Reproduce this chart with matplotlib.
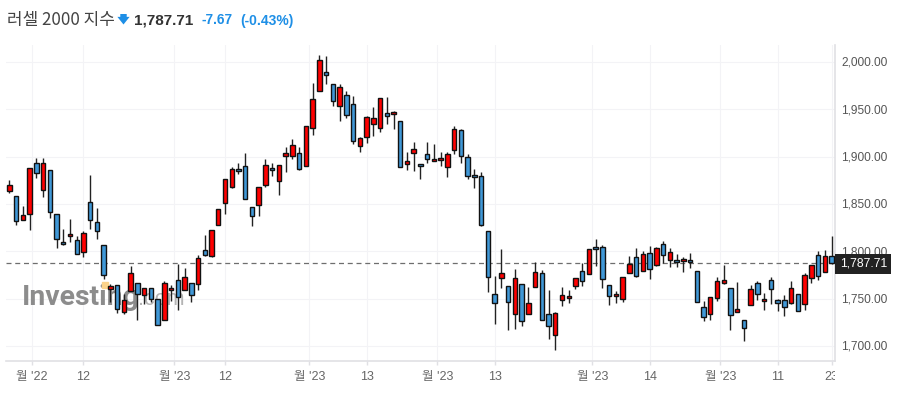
import matplotlib
matplotlib.use('Agg')
import matplotlib.pyplot as plt
from matplotlib.transforms import Bbox, ScaledTranslation
import numpy as np

plt.rcParams['font.family'] = ['Liberation Sans', 'Noto Sans CJK KR', 'DejaVu Sans']

highs = [1875.0, 1858.1, 1847.5, 1887.6, 1898.9, 1898.9, 1886.2, 1839.8, 1823.2, 1834.5,
         1816.2, 1821.5, 1880.9, 1846.1, 1807.0, 1765.1, 1764.8, 1755.3, 1784.9, 1766.9,
         1761.6, 1761.6, 1750.0, 1768.3, 1764.8, 1787.0, 1782.7, 1766.9, 1796.5, 1817.6,
         1822.9, 1845.0, 1876.7, 1889.4, 1893.6, 1904.2, 1847.2, 1868.3, 1897.1, 1893.6,
         1891.5, 1910.6, 1919.0, 1910.6, 1932.7, 1978.1, 2007.7, 2006.7, 1977.1, 1977.1,
         1969.7, 1964.4, 1921.1, 1943.3, 1952.8, 1962.3, 1963.4, 1948.6, 1938.0, 1905.3,
         1915.8, 1892.6, 1915.8, 1913.7, 1905.3, 1905.3, 1932.7, 1929.6, 1903.2, 1887.3,
         1884.2, 1821.8, 1774.3, 1802.8, 1763.8, 1781.7, 1765.9, 1762.7, 1789.1, 1780.6,
         1759.5, 1736.3, 1762.7, 1759.5, 1772.2, 1788.0, 1802.8, 1813.4, 1807.0, 1764.8,
         1758.5, 1773.3, 1795.4, 1803.9, 1800.7, 1806.0, 1804.9, 1811.3, 1803.9, 1797.5,
         1794.4, 1798.6, 1779.6, 1747.9, 1752.1, 1773.2, 1785.9, 1761.6, 1768.0, 1727.8,
         1764.8, 1769.0, 1756.3, 1773.2, 1750.0, 1754.2, 1769.0, 1755.3, 1777.5, 1785.9,
         1800.7, 1801.7, 1816.5]
lows = [1861.2, 1827.4, 1833.1, 1822.5, 1877.4, 1857.4, 1835.2, 1803.5, 1806.3, 1809.8,
        1796.8, 1794.0, 1823.2, 1813.0, 1771.1, 1746.5, 1734.9, 1733.8, 1758.5, 1727.5,
        1744.0, 1746.5, 1722.5, 1727.8, 1747.5, 1738.0, 1759.5, 1746.5, 1759.5, 1795.4,
        1794.4, 1828.2, 1839.8, 1867.2, 1882.0, 1855.6, 1826.7, 1837.7, 1868.3, 1879.9,
        1859.8, 1884.2, 1897.9, 1885.9, 1890.5, 1923.2, 1969.7, 1977.1, 1953.9, 1938.0,
        1940.8, 1913.7, 1905.3, 1914.8, 1922.2, 1926.4, 1934.5, 1929.6, 1889.4, 1886.3,
        1885.2, 1876.8, 1893.7, 1895.8, 1890.5, 1878.9, 1903.2, 1893.7, 1876.8, 1867.3,
        1827.1, 1757.4, 1723.6, 1761.6, 1717.3, 1718.3, 1721.5, 1734.2, 1762.7, 1727.8,
        1707.8, 1696.2, 1742.6, 1745.8, 1760.6, 1763.8, 1776.4, 1784.9, 1761.6, 1743.7,
        1745.8, 1746.9, 1777.5, 1773.3, 1779.6, 1771.1, 1784.9, 1788.0, 1783.8, 1783.8,
        1778.5, 1782.7, 1746.8, 1726.8, 1727.8, 1747.9, 1765.8, 1717.3, 1736.3, 1705.6,
        1743.7, 1748.9, 1738.4, 1744.7, 1737.3, 1732.1, 1744.7, 1737.3, 1738.4, 1766.9,
        1770.1, 1778.5, 1787.0]
opens = [1863.7, 1858.1, 1833.1, 1839.8, 1892.9, 1865.1, 1886.2, 1839.8, 1810.2, 1816.2,
         1812.3, 1799.6, 1852.4, 1831.3, 1807.0, 1760.6, 1764.8, 1736.3, 1758.5, 1766.9,
         1754.2, 1761.6, 1750.0, 1727.8, 1759.5, 1770.1, 1759.5, 1766.9, 1765.8, 1801.7,
         1795.4, 1828.2, 1851.4, 1868.3, 1887.3, 1890.5, 1847.2, 1849.3, 1870.4, 1888.3,
         1874.6, 1900.7, 1901.1, 1904.2, 1890.5, 1930.6, 1969.7, 1989.8, 1977.1, 1953.9,
         1965.5, 1956.0, 1911.6, 1921.1, 1934.8, 1930.6, 1946.5, 1945.4, 1938.0, 1892.6,
         1904.2, 1892.6, 1903.2, 1895.8, 1896.8, 1889.4, 1907.4, 1928.5, 1900.0, 1881.0,
         1879.9, 1821.8, 1755.3, 1772.2, 1763.8, 1734.2, 1765.9, 1734.2, 1762.7, 1777.5,
         1734.2, 1712.0, 1749.0, 1751.1, 1763.8, 1779.6, 1776.4, 1804.9, 1804.9, 1764.8,
         1753.2, 1750.0, 1777.5, 1794.4, 1779.6, 1798.6, 1785.9, 1808.1, 1791.2, 1791.2,
         1790.1, 1791.2, 1779.6, 1741.6, 1734.2, 1751.1, 1766.9, 1761.6, 1736.3, 1727.8,
         1743.7, 1766.9, 1747.9, 1770.1, 1749.0, 1749.0, 1745.8, 1755.3, 1744.7, 1772.2,
         1796.5, 1778.5, 1795.38]
closes = [1869.7, 1832.4, 1838.0, 1887.6, 1883.1, 1893.6, 1841.9, 1813.4, 1807.7, 1818.6,
          1797.5, 1819.7, 1833.4, 1821.8, 1775.3, 1763.7, 1739.1, 1749.0, 1777.5, 1755.3,
          1761.6, 1750.0, 1722.5, 1766.9, 1761.6, 1752.1, 1773.2, 1754.2, 1793.3, 1796.5,
          1822.9, 1845.0, 1876.7, 1887.3, 1885.2, 1855.6, 1837.7, 1868.3, 1891.5, 1886.2,
          1891.5, 1904.2, 1912.7, 1887.3, 1932.7, 1961.2, 2002.4, 1986.6, 1959.1, 1973.9,
          1944.4, 1916.9, 1920.1, 1942.2, 1941.2, 1962.3, 1943.3, 1947.5, 1889.4, 1895.8,
          1908.4, 1890.5, 1897.9, 1897.9, 1898.9, 1903.2, 1929.6, 1901.1, 1879.9, 1878.9,
          1828.2, 1773.3, 1745.8, 1777.5, 1746.9, 1772.2, 1726.8, 1745.8, 1778.5, 1727.8,
          1721.5, 1735.2, 1754.2, 1753.2, 1772.2, 1769.0, 1802.8, 1802.8, 1771.1, 1753.2,
          1755.3, 1773.3, 1787.0, 1774.3, 1797.5, 1781.7, 1803.9, 1796.5, 1799.7, 1789.1,
          1792.3, 1789.1, 1746.8, 1731.0, 1752.1, 1769.0, 1770.1, 1733.1, 1739.4, 1719.4,
          1760.6, 1755.3, 1750.0, 1760.6, 1745.8, 1741.6, 1761.6, 1737.3, 1775.3, 1785.9,
          1774.3, 1795.4, 1787.71]

last_price = 1787.71
y_ticks = [1700, 1750, 1800, 1850, 1900, 1950, 2000]
tick_pos = [3.4, 11, 24.5, 32, 44.5, 53, 63.5, 72, 86.5, 95, 105.5, 114, 122]
tick_labels = ["월 '22", '12', "월 '23", '12', "월 '23", '13', "월 '23", '13',
               "월 '23", '14', "월 '23", '11', '23']

W, H = 900, 394
fig = plt.figure(figsize=(W / 100, H / 100), dpi=100, facecolor='white')
ax = fig.add_axes([6 / W, 1 - 361.3 / H, 829.3 / W, 316.3 / H])

x = np.arange(len(closes))
opens_a = np.array(opens)
closes_a = np.array(closes)
colors = ['#ff0000' if c >= o else '#4098d7' for o, c in zip(opens, closes)]

ax.set_axisbelow(True)
ax.grid(True, color='#f3f3f6', linewidth=0.8)

# watermark sits under the candles
ax.text(0.0193, 0.178, 'Investing', fontsize=20.4, fontweight='bold', color='#8c8c8c',
        family=['Roboto', 'DejaVu Sans'], va='baseline', transform=ax.transAxes, zorder=1)
ax.text(0.159, 0.178, '.com', fontsize=15.5, color='#b4b4b4', va='baseline',
        transform=ax.transAxes, zorder=1)
ax.plot([0.119], [0.241], marker='s', ms=4.5, color='#fbd38a', transform=ax.transAxes,
        clip_on=False, zorder=1.5)

ax.axhline(last_price, color='#6e6e6e', linewidth=0.9, dashes=(4, 3), zorder=2)

ax.vlines(x, lows, highs, color='#222222', linewidth=1, zorder=3)
ax.bar(x, np.abs(closes_a - opens_a), bottom=np.minimum(opens_a, closes_a), width=0.66,
       color=colors, edgecolor='#111111', linewidth=1, zorder=4)

ax.set_xlim(-0.494, 122.55)
ax.set_ylim(1683.9, 2017.9)

ax.yaxis.tick_right()
ax.set_yticks(y_ticks)
ax.set_yticklabels([f'{v:,.2f}' for v in y_ticks])
ax.tick_params(axis='y', length=0, pad=4.4, labelsize=8.6, labelcolor='#555555')
# price labels ride a little above their grid lines
up = ScaledTranslation(0, 0.8 / 100, fig.dpi_scale_trans)
for lab in ax.get_yticklabels():
    lab.set_transform(lab.get_transform() + up)
ax.set_xticks(tick_pos)
ax.set_xticklabels(tick_labels)
ax.tick_params(axis='x', length=3, width=1, color='#e0e0e4', pad=4.2, labelsize=9, labelcolor='#666666')

for s in ['top', 'left']:
    ax.spines[s].set_visible(False)
for s in ['bottom', 'right']:
    ax.spines[s].set_color('#e0e0e4')
    ax.spines[s].set_linewidth(1.2)

# last tick label gets cut off at the price axis
clip = Bbox([[0, 0], [835, H]])
ax.get_xticklabels()[-1].set_clip_box(clip)
ax.get_xticklabels()[-1].set_clip_on(True)

ax.annotate(f'{last_price:,.2f}', xy=(1.0, last_price), xycoords=('axes fraction', 'data'),
            xytext=(20.2, 0.4), textcoords='offset points', ha='center', va='center_baseline',
            fontsize=8.8, fontweight='medium', color='white', annotation_clip=False, zorder=6,
            bbox=dict(boxstyle='square,pad=0.36', fc='#222222', ec='none'))

# header line
fig.text(7 / W, 1 - 25 / H, '러셀 2000 지수', fontsize=12.2, color='#444444', va='baseline',
         family=['Noto Sans CJK KR', 'DejaVu Sans'])
ax.annotate('', xy=(123.5, H - 24.5), xytext=(123.5, H - 14), xycoords='figure pixels',
            textcoords='figure pixels', annotation_clip=False,
            arrowprops=dict(arrowstyle='simple,head_width=0.8,tail_width=0.42,head_length=0.5',
                            color='#1e8fe6', mutation_scale=11, shrinkA=0, shrinkB=0, lw=0))
fig.text(134 / W, 1 - 24.5 / H, '1,787.71', fontsize=11, fontweight='bold', color='#333333', va='baseline')
fig.text(202 / W, 1 - 24.5 / H, '-7.67', fontsize=9.8, fontweight='bold', color='#1e8fe6', va='baseline')
fig.text(240 / W, 1 - 24.5 / H, '(-0.43%)', fontsize=10, fontweight='bold', color='#1e8fe6', va='baseline')

fig.savefig('out.png', dpi=100)
